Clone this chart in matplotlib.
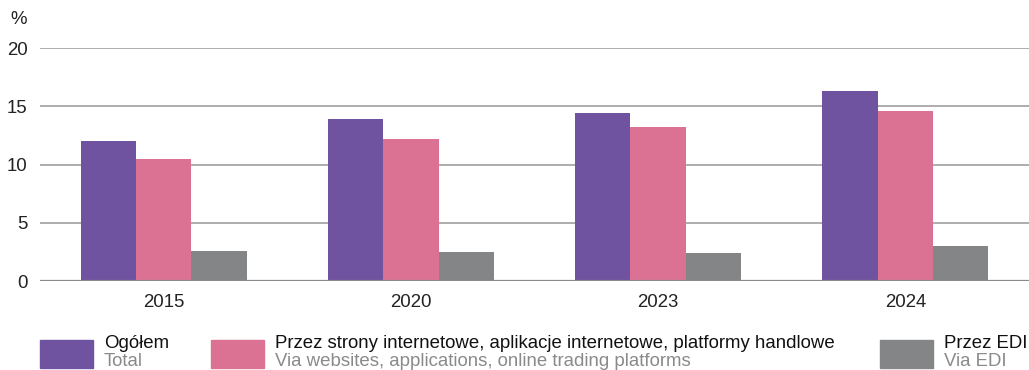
import numpy as np
import matplotlib.pyplot as plt
from matplotlib.patches import Rectangle

plt.rcParams["font.family"] = ["Liberation Sans", "DejaVu Sans"]

years = ["2015", "2020", "2023", "2024"]
total = [12.0, 13.9, 14.4, 16.3]
web = [10.5, 12.2, 13.2, 14.6]
edi = [2.6, 2.5, 2.4, 3.0]

labels_pl = ["Ogółem", "Przez strony internetowe, aplikacje internetowe, platformy handlowe", "Przez EDI"]
labels_en = ["Total", "Via websites, applications, online trading platforms", "Via EDI"]
colors = ["#6F52A0", "#DC7293", "#848587"]

fs = 13.4

fig = plt.figure(figsize=(10.29, 3.70), dpi=100)
ax = fig.add_axes([0.0389, 0.2405, 0.9611, 0.6295])

x = np.arange(len(years))
w = 0.224
for i, vals in enumerate([total, web, edi]):
    ax.bar(x + (i - 1) * w, vals, width=w, color=colors[i], zorder=3)

ax.set_xlim(-0.5, 3.5)
ax.set_ylim(0, 20)
ax.set_yticks([0, 5, 10, 15, 20])
ax.set_xticks(x)
ax.set_xticklabels(years)
ax.tick_params(axis="both", length=0, labelsize=fs, colors="#222222")
ax.tick_params(axis="y", pad=9)
ax.tick_params(axis="x", pad=9)
for s in ax.spines.values():
    s.set_visible(False)
ax.grid(axis="y", color="#a0a0a0", linewidth=1.2, zorder=0)
ax.axhline(0, color="#8a8a8a", linewidth=1.6, zorder=4)

fig.text(0.0097, 0.948, "%", fontsize=fs, color="#222222", va="center")

# legend
leg_x = [0.039, 0.205, 0.855]
for i in range(3):
    fig.add_artist(Rectangle((leg_x[i], 0.005), 0.0515, 0.075, transform=fig.transFigure,
                             color=colors[i]))
    fig.text(leg_x[i] + 0.062, 0.072, labels_pl[i], fontsize=fs, color="#111111", va="center")
    fig.text(leg_x[i] + 0.062, 0.024, labels_en[i], fontsize=fs, color="#8a8a8a", va="center")

fig.savefig("out.png", dpi=100)
